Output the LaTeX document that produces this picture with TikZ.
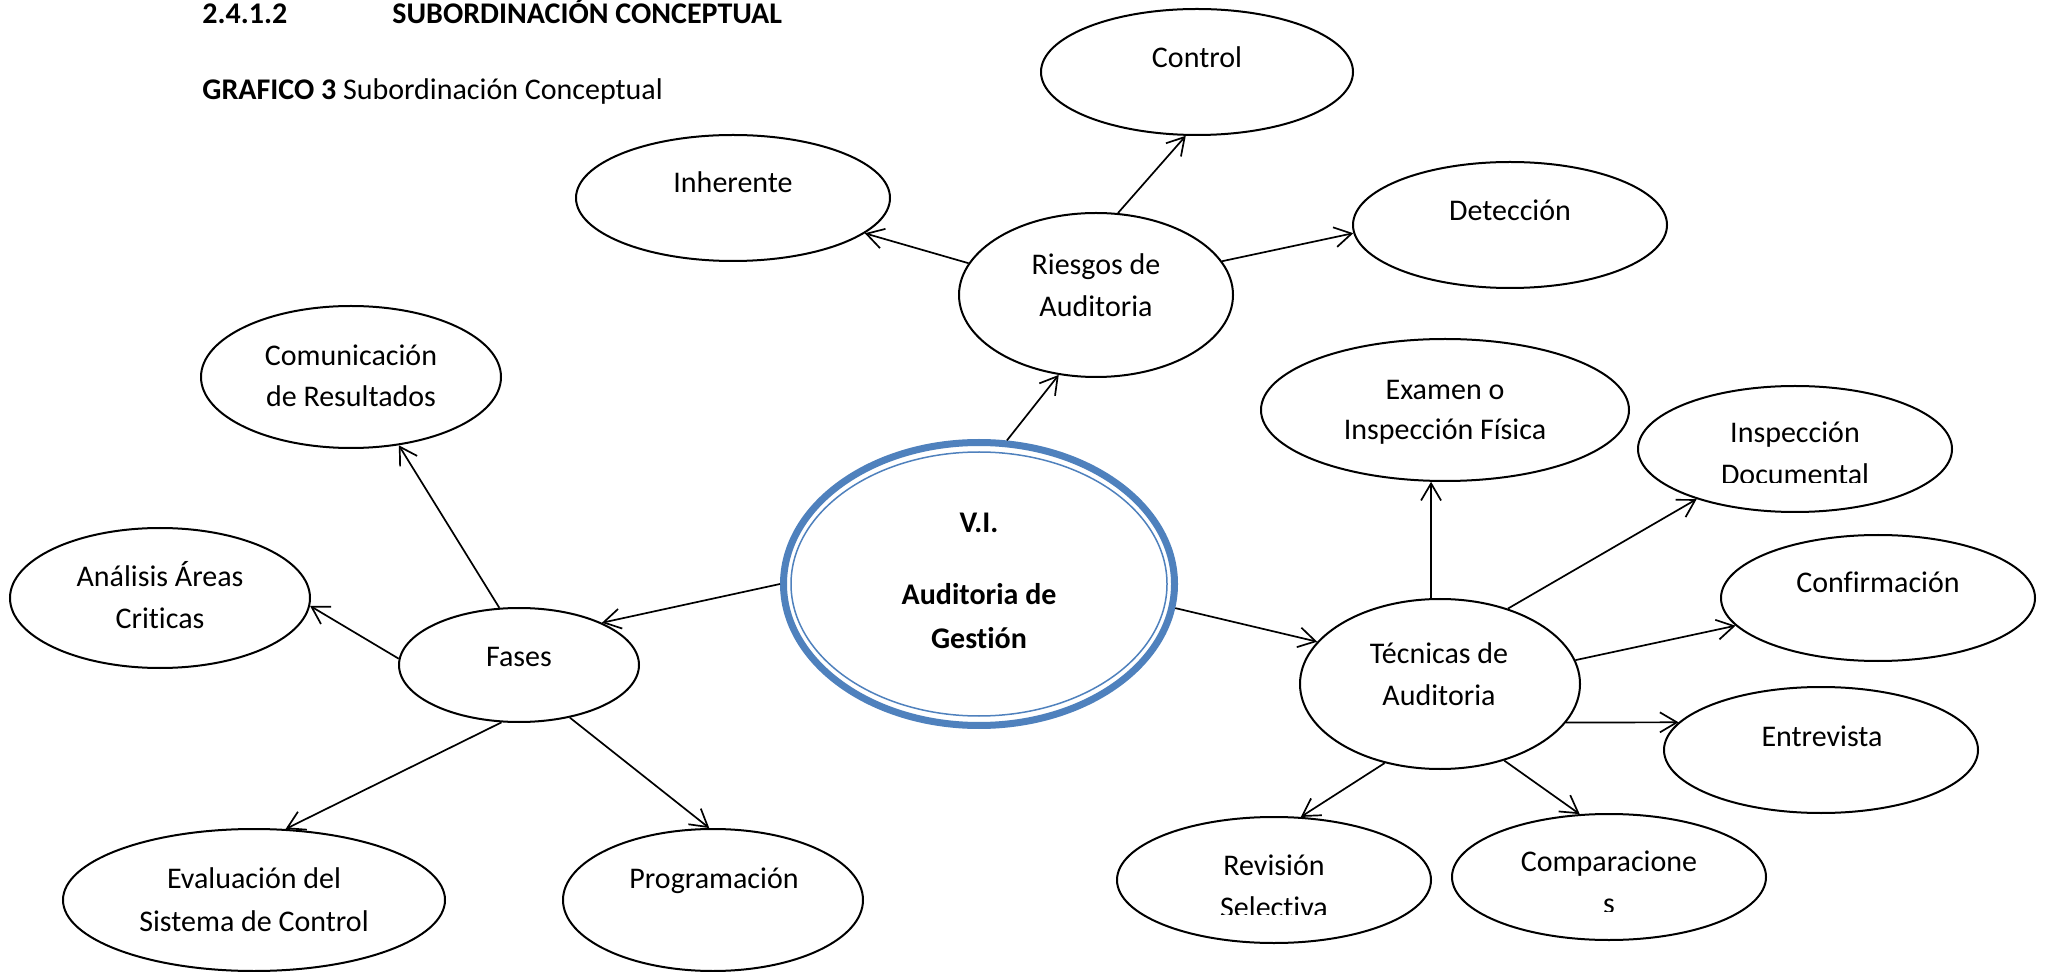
\documentclass[tikz,border=0pt]{standalone}
\usepackage{fontspec}
\setmainfont{Carlito}[Ligatures=CommonOff]
\usetikzlibrary{arrows.meta,shapes.geometric}
\definecolor{vblue}{HTML}{4F81BD}
\begin{document}
\begin{tikzpicture}[x=0.5pt,y=-0.5pt,
  bubble/.style 2 args={ellipse,draw=black,line width=1pt,inner sep=0pt,
    minimum width=#1pt,minimum height=#2pt},
  lbl/.style={anchor=base,inner sep=0pt,font=\fontsize{15}{18}\selectfont},
  head/.style={anchor=base west,inner sep=0pt,font=\fontsize{15}{18}\selectfont},
  link/.style={-{Straight Barb[length=8.5pt,width=10pt]},line width=0.85pt},
]
\fill[white] (0,0) rectangle (2045,972);
\useasboundingbox (0,0) rectangle (2045,972);

% headings
\node[head,font=\fontsize{15}{18}\selectfont\bfseries] (secnum) at (202,24) {2.4.1.2};
\node[head,font=\fontsize{15}{18}\selectfont\bfseries] (sectitle) at (392,24) {SUBORDINACIÓN CONCEPTUAL};
\node[head] (caption) at (202,100) {\textbf{GRAFICO 3} Subordinación Conceptual};

% central concept
\node[ellipse,draw=vblue,line width=3.5pt,inner sep=0pt,
  minimum width=195.5pt,minimum height=141.5pt] (vi) at (979,584) {};
\node[ellipse,draw=vblue,line width=0.75pt,inner sep=0pt,
  minimum width=188pt,minimum height=132pt] (viin) at (979,584) {};
\node[lbl,font=\fontsize{15}{18}\selectfont\bfseries] (vi-1) at (979,533) {V.I.};
\node[lbl,font=\fontsize{15}{18}\selectfont\bfseries] (vi-2) at (979,604) {Auditoria de};
\node[lbl,font=\fontsize{15}{18}\selectfont\bfseries] (vi-3) at (979,648) {Gestión};

% concept ellipses
\node[bubble={156}{63}] (control) at (1197,72) {};
\node[bubble={157}{63}] (inherente) at (733,198) {};
\node[bubble={157}{63}] (deteccion) at (1510,225) {};
\node[bubble={137}{82}] (riesgos) at (1096,295) {};
\node[bubble={150}{71}] (comunicacion) at (351,377) {};
\node[bubble={184}{71}] (examen) at (1445,410) {};
\node[bubble={157}{63}] (inspdoc) at (1795,449) {};
\node[bubble={157}{63}] (confirmacion) at (1878,598) {};
\node[bubble={140}{85}] (tecnicas) at (1440,684) {};
\node[bubble={157}{63}] (entrevista) at (1821,750) {};
\node[bubble={150}{70}] (analisis) at (160,598) {};
\node[bubble={120}{57}] (fases) at (519,665) {};
\node[bubble={191}{71}] (evaluacion) at (254,900) {};
\node[bubble={150}{71}] (programacion) at (713,900) {};
\node[bubble={157}{63}] (revision) at (1274,880) {};
\node[bubble={157}{63}] (comparaciones) at (1609,877) {};

% labels
\node[lbl] (control-t) at (1197,68) {Control};
\node[lbl] (inherente-t) at (733,193) {Inherente};
\node[lbl] (deteccion-t) at (1510,221) {Detección};
\node[lbl] (riesgos-t1) at (1096,275) {Riesgos de};
\node[lbl] (riesgos-t2) at (1096,317) {Auditoria};
\node[lbl] (comunicacion-t1) at (351,366) {Comunicación};
\node[lbl] (comunicacion-t2) at (351,407) {de Resultados};
\node[lbl] (examen-t1) at (1445,400) {Examen o};
\node[lbl] (examen-t2) at (1445,440) {Inspección Física};
\node[lbl] (inspdoc-t1) at (1795,443) {Inspección};
% text boxes that cut off their last line
\begin{scope}
  \clip (1640,455) rectangle (1950,482.5);
  \node[lbl] (inspdoc-t2) at (1795,485) {Documental};
\end{scope}
\node[lbl] (confirmacion-t) at (1878,593) {Confirmación};
\node[lbl] (tecnicas-t1) at (1439,663) {Técnicas de};
\node[lbl] (tecnicas-t2) at (1439,705) {Auditoria};
\node[lbl] (entrevista-t) at (1822,746) {Entrevista};
\node[lbl] (analisis-t1) at (160,587) {Análisis Áreas};
\node[lbl] (analisis-t2) at (160,628) {Criticas};
\node[lbl] (fases-t) at (519,666) {Fases};
\node[lbl] (evaluacion-t1) at (254,888) {Evaluación del};
\node[lbl] (evaluacion-t2) at (254,931) {Sistema de Control};
\node[lbl] (programacion-t) at (714,888) {Programación};
\node[lbl] (revision-t1) at (1274,875) {Revisión};
\begin{scope}
  \clip (1120,885) rectangle (1430,914.5);
  \node[lbl] (revision-t2) at (1274,917) {Selectiva};
\end{scope}
\node[lbl] (comparaciones-t1) at (1609,871) {Comparacione};
\begin{scope}
  \clip (1460,885) rectangle (1760,911.5);
  \node[lbl] (comparaciones-t2) at (1609,913) {s};
\end{scope}

% connectors
\draw[link] (riesgos.75) -- (control.260);
\draw[link] (riesgos.166) -- (inherente.345);
\draw[link] (riesgos.15) -- (deteccion.183);
\draw[link] (vi.79) -- (riesgos.245);
\draw[link] (vi.180) -- (fases.27);
\draw[link] (vi.353) -- (tecnicas.161);
\draw[link] (fases.109) -- (comunicacion.305);
\draw[link] (fases.177) -- (analisis.357);
\draw[link] (fases.253) -- (evaluacion.66);
\draw[link] (fases.314) -- (programacion.93);
\draw[link] (tecnicas.96) -- (examen.259);
\draw[link] (tecnicas.48) -- (inspdoc.207);
\draw[link] (tecnicas.10) -- (confirmacion.191);
\draw[link] (tecnicas.343) -- (entrevista.169);
\draw[link] (tecnicas.310) -- (comparaciones.115);
\draw[link] (tecnicas.235) -- (revision.67);
\end{tikzpicture}
\end{document}
